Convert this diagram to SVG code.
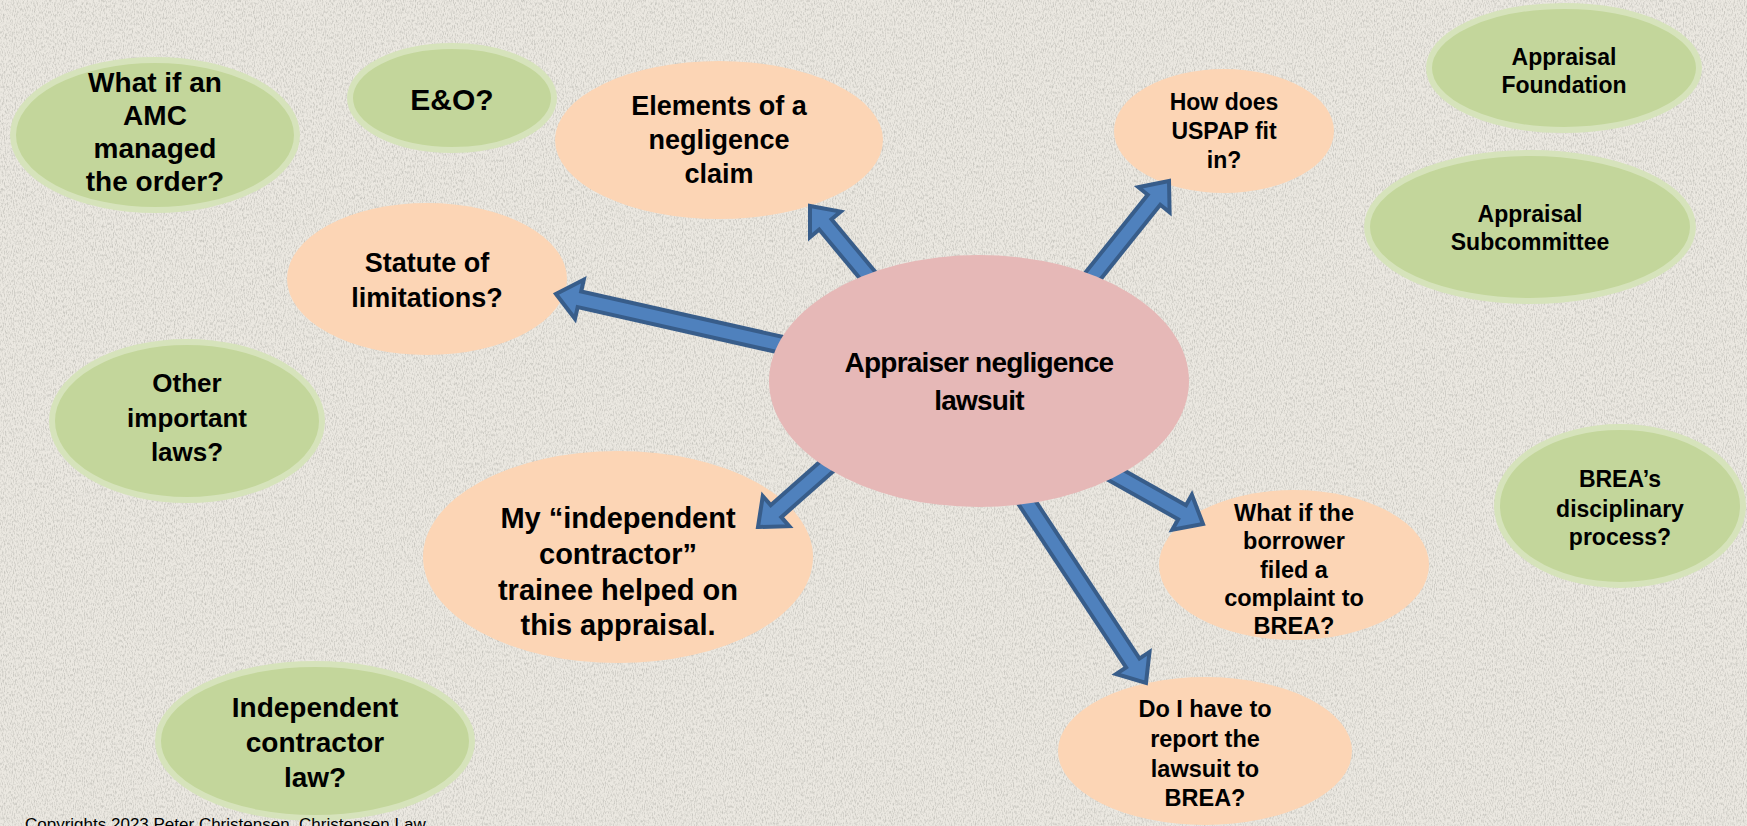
<svg xmlns="http://www.w3.org/2000/svg" width="1747" height="826" viewBox="0 0 1747 826">
<defs>
<filter id="paper" x="0" y="0" width="100%" height="100%">
<feTurbulence type="fractalNoise" baseFrequency="0.9 0.35" numOctaves="2" seed="3" result="n"/>
<feColorMatrix type="matrix" values="0 0 0 0 0.55  0 0 0 0 0.54  0 0 0 0 0.5  0 0 0 -2.2 1.25" in="n" result="m"/>
<feComposite in="m" in2="SourceGraphic" operator="in"/>
</filter>
<style>
.bg{fill:#ebe8e1}
.green{fill:#c3d69b;stroke:#d6e3bb;stroke-width:6}
.peach{fill:#fcd5b5}
.pink{fill:#e6b8b7}
.arrow{fill:#4f81bd;stroke:#385d8a;stroke-width:4;stroke-linejoin:miter}
text{font-family:"Liberation Sans",Arial,sans-serif;font-weight:bold;fill:#000;text-anchor:middle}
.copy{font-weight:normal;text-anchor:start;font-size:17px}
</style>
</defs>
<rect class="bg" x="0" y="0" width="1747" height="826"/>
<rect x="0" y="0" width="1747" height="826" fill="#ebe8e1" filter="url(#paper)"/>

<g id="node-amc">
<ellipse class="green" cx="155" cy="135" rx="142" ry="75"/>
<text font-size="28" x="155" y="92">What if an</text>
<text font-size="28" x="155" y="125">AMC</text>
<text font-size="28" x="155" y="158">managed</text>
<text font-size="28" x="155" y="191">the order?</text>
</g>

<g id="node-eo">
<ellipse class="green" cx="452" cy="98" rx="102" ry="52"/>
<text font-size="30" x="452" y="110">E&amp;O?</text>
</g>

<g id="node-elements">
<ellipse class="peach" cx="719" cy="140" rx="164" ry="79"/>
<text font-size="27" x="719" y="115">Elements of a</text>
<text font-size="27" x="719" y="149">negligence</text>
<text font-size="27" x="719" y="183">claim</text>
</g>

<g id="node-uspap">
<ellipse class="peach" cx="1224" cy="131" rx="110" ry="62"/>
<text font-size="23" x="1224" y="110">How does</text>
<text font-size="23" x="1224" y="139">USPAP fit</text>
<text font-size="23" x="1224" y="168">in?</text>
</g>

<g id="node-foundation">
<ellipse class="green" cx="1564" cy="68" rx="135" ry="62"/>
<text font-size="23" x="1564" y="65">Appraisal</text>
<text font-size="23" x="1564" y="93">Foundation</text>
</g>

<g id="node-subcommittee">
<ellipse class="green" cx="1530" cy="227" rx="163" ry="74"/>
<text font-size="23" x="1530" y="222">Appraisal</text>
<text font-size="23" x="1530" y="250">Subcommittee</text>
</g>

<g id="node-statute">
<ellipse class="peach" cx="427" cy="279" rx="140" ry="76"/>
<text font-size="27" x="427" y="272">Statute of</text>
<text font-size="27" x="427" y="307">limitations?</text>
</g>

<g id="node-other">
<ellipse class="green" cx="187" cy="421" rx="135" ry="79"/>
<text font-size="26" x="187" y="392">Other</text>
<text font-size="26" x="187" y="427">important</text>
<text font-size="26" x="187" y="461">laws?</text>
</g>

<g id="node-trainee">
<ellipse class="peach" cx="618" cy="557" rx="195" ry="106"/>
<text font-size="29" x="618" y="528">My “independent</text>
<text font-size="29" x="618" y="564">contractor”</text>
<text font-size="29" x="618" y="600">trainee helped on</text>
<text font-size="29" x="618" y="635">this appraisal.</text>
</g>

<g id="node-borrower">
<ellipse class="peach" cx="1294" cy="565" rx="135" ry="75"/>
<text font-size="23.5" x="1294" y="521">What if the</text>
<text font-size="23.5" x="1294" y="549">borrower</text>
<text font-size="23.5" x="1294" y="578">filed a</text>
<text font-size="23.5" x="1294" y="606">complaint to</text>
<text font-size="23.5" x="1294" y="634">BREA?</text>
</g>

<g id="node-disciplinary">
<ellipse class="green" cx="1620" cy="506" rx="123" ry="79"/>
<text font-size="23" x="1620" y="487">BREA’s</text>
<text font-size="23" x="1620" y="517">disciplinary</text>
<text font-size="23" x="1620" y="545">process?</text>
</g>

<g id="node-report">
<ellipse class="peach" cx="1205" cy="751" rx="147" ry="74"/>
<text font-size="23.5" x="1205" y="717">Do I have to</text>
<text font-size="23.5" x="1205" y="747">report the</text>
<text font-size="23.5" x="1205" y="777">lawsuit to</text>
<text font-size="23.5" x="1205" y="806">BREA?</text>
</g>

<g id="node-independent">
<ellipse class="green" cx="315" cy="741" rx="157" ry="77"/>
<text font-size="28" x="315" y="717">Independent</text>
<text font-size="28" x="315" y="752">contractor</text>
<text font-size="28" x="315" y="787">law?</text>
</g>

<g id="connectors">
<g transform="translate(810,206) rotate(230.2)"><polygon class="arrow" points="0,0 -24,-20 -24,-8 -109,-8 -109,8 -24,8 -24,20"/></g>
<g transform="translate(556,294) rotate(192.7)"><polygon class="arrow" points="0,0 -24,-20 -24,-8 -251,-8 -251,8 -24,8 -24,20"/></g>
<g transform="translate(1169,181) rotate(-51.3)"><polygon class="arrow" points="0,0 -24,-20 -24,-8 -142,-8 -142,8 -24,8 -24,20"/></g>
<g transform="translate(1203,524) rotate(29.3)"><polygon class="arrow" points="0,0 -24,-20 -24,-8 -123,-8 -123,8 -24,8 -24,20"/></g>
<g transform="translate(1146,683) rotate(56.6)"><polygon class="arrow" points="0,0 -24,-20 -24,-8 -260,-8 -260,8 -24,8 -24,20"/></g>
<g transform="translate(758,527) rotate(138.6)"><polygon class="arrow" points="0,0 -24,-20 -24,-8 -123,-8 -123,8 -24,8 -24,20"/></g>
</g>

<g id="node-center">
<ellipse class="pink" cx="979" cy="381" rx="210" ry="126"/>
<text font-size="28" letter-spacing="-0.8" x="979" y="372">Appraiser negligence</text>
<text font-size="28" letter-spacing="-0.8" x="979" y="410">lawsuit</text>
</g>

<text class="copy" x="25" y="830">Copyrights 2023 Peter Christensen, Christensen Law</text>
</svg>
